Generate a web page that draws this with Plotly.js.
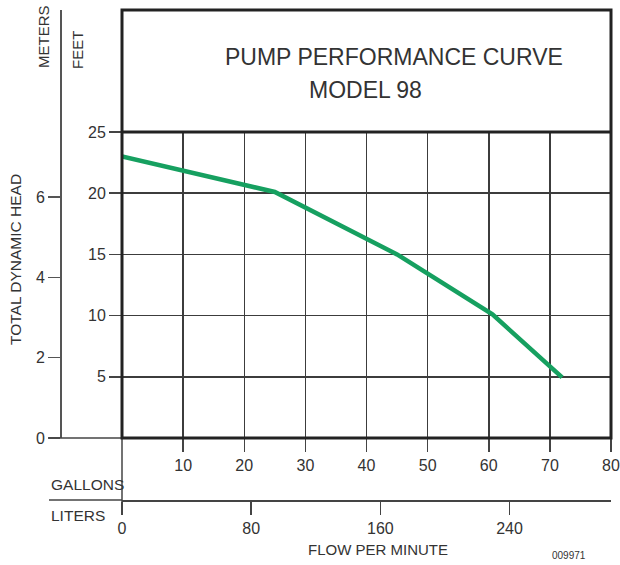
<!DOCTYPE html>
<html><head><meta charset="utf-8">
<script src="https://cdn.plot.ly/plotly-3.0.1.min.js"></script>
<style>body{margin:0;padding:0;background:#fff}#chart{width:620px;height:565px}</style>
</head><body><div id="chart"></div>
<script>
// ---- data ----
const flowGallons = [0, 25, 45, 60.6, 72];
const headFeet = [23.0, 20.1, 15.0, 10.1, 4.95];
const gallonTicks = [10, 20, 30, 40, 50, 60, 70, 80];
const feetTicks = [5, 10, 15, 20, 25];
const meterTicks = [0, 2, 4, 6];
const literTicks = [0, 80, 160, 240];
const titleLine1 = 'PUMP PERFORMANCE CURVE';
const titleLine2 = 'MODEL 98';
const labelMeters = 'METERS';
const labelFeet = 'FEET';
const labelHead = 'TOTAL DYNAMIC HEAD';
const labelGallons = 'GALLONS';
const labelLiters = 'LITERS';
const labelFlow = 'FLOW PER MINUTE';
const labelCode = '009971';

// ---- geometry (pixels) ----
const W = 620, H = 565;
const L = 122, R = 611, T = 10, B = 500;
const gridTop = 132, gridBot = 438;
const pw = R - L, ph = B - T;
const px = x => (x - L) / pw;
const py = y => (B - y) / ph;
const yb = py(gridBot), yt = py(gridTop);
const FT_PER_M = 3.28084, L_PER_GAL = 3.78541;
const feetMax = 25, galMax = 80;
const ftPerPx = feetMax / (gridBot - gridTop);
const meterMax = (gridBot - T) * ftPerPx / FT_PER_M;

const FONT = '"Liberation Sans", Arial, sans-serif';
const tickFont = {family: FONT, size: 16, color: '#333'};
const gridCol = '#3c3c3c';

const traces = [
  {x: flowGallons, y: headFeet, xaxis: 'x', yaxis: 'y', mode: 'lines',
   line: {color: '#16a060', width: 4.5}, hoverinfo: 'skip', showlegend: false},
  {x: [0], y: [0], xaxis: 'x2', yaxis: 'y2', mode: 'markers',
   marker: {opacity: 0}, hoverinfo: 'skip', showlegend: false},
  {x: [0], y: [0], xaxis: 'x3', yaxis: 'y3', mode: 'markers',
   marker: {opacity: 0}, hoverinfo: 'skip', showlegend: false}
];

const ann = (text, x, y, size, extra) => Object.assign({
  text: text, x: px(x), y: py(y), xref: 'paper', yref: 'paper', showarrow: false,
  font: {family: FONT, size: size, color: '#333'}, xanchor: 'center', yanchor: 'middle'
}, extra || {});

const layout = {
  width: W, height: H,
  margin: {l: L, r: W - R, t: T, b: H - B, pad: 0},
  paper_bgcolor: '#fff', plot_bgcolor: 'rgba(0,0,0,0)',
  showlegend: false,
  xaxis: {domain: [0, 1], anchor: 'y', range: [0, galMax], tickvals: gallonTicks,
    ticks: 'outside', ticklen: 13, tickwidth: 1.5, tickcolor: '#444',
    showgrid: true, gridcolor: gridCol, gridwidth: 1.5, zeroline: false,
    showline: false, tickfont: tickFont, fixedrange: true},
  yaxis: {domain: [yb, yt], anchor: 'x', range: [0, feetMax], tickvals: feetTicks,
    ticks: 'outside', ticklen: 12, tickwidth: 1.5, tickcolor: '#444',
    showgrid: true, gridcolor: gridCol, gridwidth: 1.5, zeroline: false,
    showline: false, tickfont: tickFont, fixedrange: true},
  xaxis2: {domain: [0, 1], anchor: 'y2', range: [0, 1], visible: false, fixedrange: true},
  yaxis2: {domain: [yb, 1], anchor: 'free', position: 0, shift: -61, autoshift: false,
    side: 'left', range: [0, meterMax], tickvals: meterTicks,
    ticks: 'outside', ticklen: 12, tickwidth: 1.5, tickcolor: '#555',
    showline: true, linecolor: '#555', linewidth: 2, showgrid: false, zeroline: false,
    tickfont: tickFont, fixedrange: true},
  xaxis3: {domain: [0, 1], anchor: 'y3', range: [0, galMax * L_PER_GAL], tickvals: literTicks,
    ticks: 'outside', ticklen: 13, tickwidth: 1.5, tickcolor: '#444',
    showline: true, linecolor: '#444', linewidth: 1.5, showgrid: false, zeroline: false,
    tickfont: tickFont, fixedrange: true},
  yaxis3: {domain: [0, 0.04], anchor: 'x3', range: [0, 1], visible: false, fixedrange: true},
  shapes: [
    {type: 'line', xref: 'paper', yref: 'paper', x0: px(49), x1: 0, y0: yb, y1: yb,
     line: {color: '#444', width: 1.5}},
    {type: 'line', xref: 'paper', yref: 'paper', x0: px(49), x1: 0, y0: 0, y1: 0,
     line: {color: '#444', width: 1.5}},
    {type: 'line', xref: 'paper', yref: 'paper', x0: 0, x1: 0, y0: py(513), y1: yb,
     line: {color: '#444', width: 1.5}},
    {type: 'rect', xref: 'paper', yref: 'paper', x0: 0, x1: 1, y0: yb, y1: 1,
     line: {color: '#222', width: 3}, layer: 'above'},
    {type: 'line', xref: 'paper', yref: 'paper', x0: 0, x1: 1, y0: yt, y1: yt,
     line: {color: '#222', width: 3}, layer: 'above'}
  ],
  annotations: [
    ann(titleLine1, 393.5, 57, 23),
    ann(titleLine2, 365.5, 90, 23),
    ann(labelMeters, 43, 37, 15, {textangle: -90}),
    ann(labelFeet, 78, 50, 15, {textangle: -90}),
    ann(labelHead, 15, 260, 15.5, {textangle: -90}),
    ann(labelGallons, 49, 484, 15.5, {xanchor: 'left'}),
    ann(labelLiters, 49, 515, 15.5, {xanchor: 'left'}),
    ann(labelFlow, 378, 549, 15),
    ann(labelCode, 569, 555, 10)
  ]
};

Plotly.newPlot('chart', traces, layout, {staticPlot: true, displayModeBar: false});
</script>
</body></html>
